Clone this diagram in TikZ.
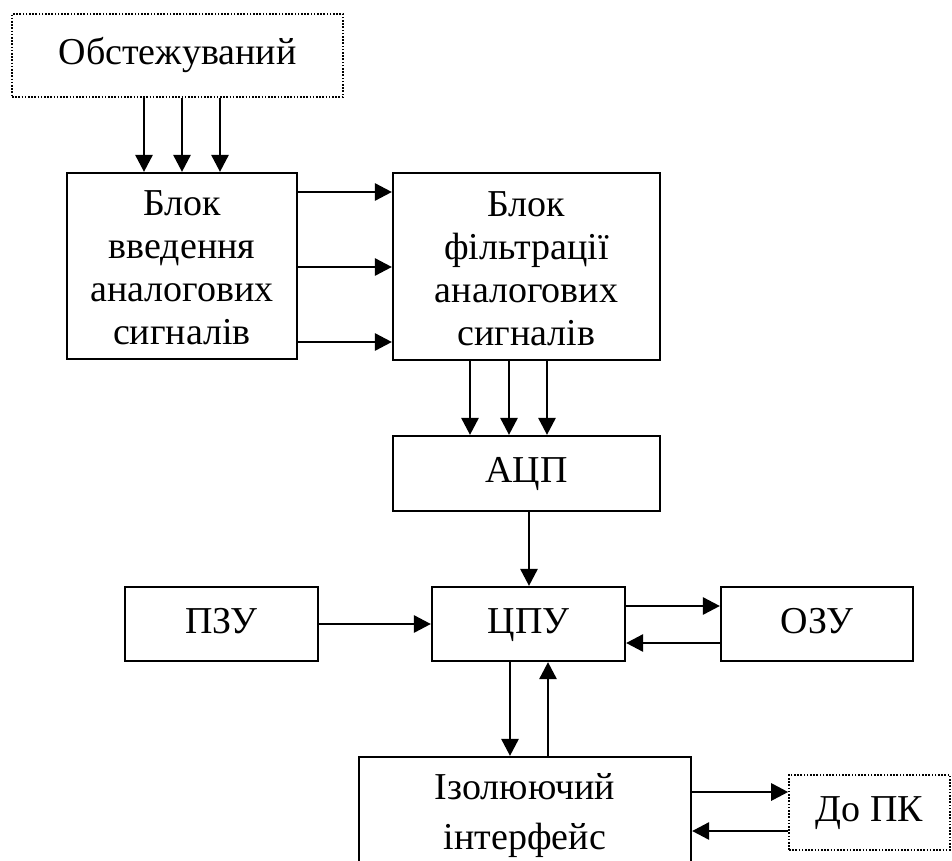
\documentclass[tikz,border=0pt]{standalone}
\usepackage{fontspec}
\setmainfont{Liberation Serif}
\usetikzlibrary{arrows.meta}
\newcommand{\toppad}{\rule{0pt}{29pt}}
\begin{document}
\begin{tikzpicture}[x=1pt,y=-1pt,
  every node/.style={font=\fontsize{38}{43}\selectfont},
  blockbox/.style={draw,line width=2.2pt,inner sep=0pt,align=center},
  oneline/.style={text height=26pt,text depth=8pt},
  dotbox/.style={draw,line width=1.6pt,dash pattern=on 1.6pt off 1.6pt,inner sep=0pt,align=center},
  arr/.style={line width=2.8pt,-{Triangle[length=17pt,width=17pt]}}]
\useasboundingbox (0,0) rectangle (952,861);
% blocks
\node[dotbox,oneline,minimum width=331pt,minimum height=83pt] (obst) at (177.5,55.5) {Обстежуваний};
\node[blockbox,minimum width=230pt,minimum height=186pt] (vved) at (182,266) {\toppad Блок\\введення\\аналогових\\сигналів};
\node[blockbox,minimum width=267pt,minimum height=187pt] (filt) at (526.5,266.5) {\toppad Блок\\фільтрації\\аналогових\\сигналів};
\node[blockbox,oneline,minimum width=267pt,minimum height=75pt] (adc) at (526.5,473.5) {АЦП};
\node[blockbox,oneline,minimum width=193pt,minimum height=74pt] (pzu) at (221.5,624) {ПЗУ};
\node[blockbox,oneline,minimum width=193pt,minimum height=74pt] (cpu) at (528.5,624) {ЦПУ};
\node[blockbox,oneline,minimum width=192pt,minimum height=74pt] (ozu) at (817,624) {ОЗУ};
\node[blockbox,minimum width=332pt,minimum height=118pt,
      font=\fontsize{38}{50}\selectfont] (iso) at (525,816) {Ізолюючий\\інтерфейс};
\node[dotbox,oneline,minimum width=161pt,minimum height=75pt] (dopk) at (869.5,812.5) {До ПК};
% signal lines
\foreach \x in {144,182,220}
  \draw[arr] (obst.south -| \x,0) -- (vved.north -| \x,0);
\foreach \y in {192,267,342}
  \draw[arr] (vved.east |- 0,\y) -- (filt.west |- 0,\y);
\foreach \x in {470,509,547}
  \draw[arr] (filt.south -| \x,0) -- (adc.north -| \x,0);
\draw[arr] (adc.south -| 529,0) -- (cpu.north -| 529,0);
\draw[arr] (pzu.east |- 0,624) -- (cpu.west |- 0,624);
\draw[arr] (cpu.east |- 0,606) -- (ozu.west |- 0,606);
\draw[arr] (ozu.west |- 0,643) -- (cpu.east |- 0,643);
\draw[arr] (cpu.south -| 510,0) -- (iso.north -| 510,0);
\draw[arr] (iso.north -| 548,0) -- (cpu.south -| 548,0);
\draw[arr] (iso.east |- 0,792) -- (dopk.west |- 0,792);
\draw[arr] (dopk.west |- 0,831) -- (iso.east |- 0,831);
\end{tikzpicture}
\end{document}
